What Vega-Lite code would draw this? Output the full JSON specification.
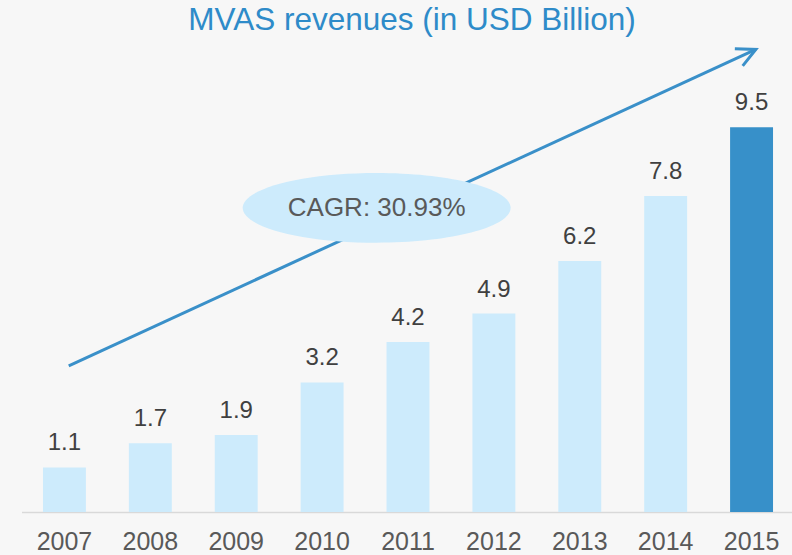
{
  "$schema": "https://vega.github.io/schema/vega-lite/v6.json",
  "width": 773,
  "height": 467,
  "autosize": {"type": "none"},
  "padding": {"left": 21.5, "top": 45, "right": 0, "bottom": 43},
  "background": "#f7f7f7",
  "config": {"view": {"stroke": null}, "font": "Liberation Sans"},
  "title": {
    "text": "MVAS revenues (in USD Billion)",
    "fontSize": 31.5,
    "fontWeight": "normal",
    "color": "#2e8bc9",
    "font": "Liberation Sans",
    "anchor": "middle",
    "frame": "group",
    "baseline": "alphabetic",
    "offset": -19,
    "dx": 4
  },
  "datasets": {
    "rev": [
      {"year": "2007", "value": 1.1},
      {"year": "2008", "value": 1.7},
      {"year": "2009", "value": 1.9},
      {"year": "2010", "value": 3.2},
      {"year": "2011", "value": 4.2},
      {"year": "2012", "value": 4.9},
      {"year": "2013", "value": 6.2},
      {"year": "2014", "value": 7.8},
      {"year": "2015", "value": 9.5}
    ],
    "arrow": [
      {"year": "2007", "value": 3.61},
      {"year": "2015", "value": 11.42}
    ],
    "arrowhead": [
      {"year": "2015", "value": 11.42}
    ],
    "cagr": [
      {"year": "2010", "value": 7.51, "label": "CAGR: 30.93%"}
    ]
  },
  "layer": [
    {
      "data": {"name": "rev"},
      "mark": {"type": "bar"},
      "encoding": {
        "x": {
          "field": "year",
          "type": "nominal",
          "scale": {"paddingInner": 0.5, "paddingOuter": 0.25},
          "axis": {
            "title": null,
            "labelAngle": 0,
            "ticks": false,
            "labelFontSize": 25,
            "labelColor": "#595959",
            "labelBaseline": "alphabetic",
            "labelPadding": 37,
            "domainColor": "#d9d9d9",
            "domainWidth": 1.5,
            "grid": false
          }
        },
        "y": {
          "field": "value",
          "type": "quantitative",
          "scale": {"domain": [0, 11.53], "nice": false, "zero": true},
          "axis": null
        },
        "color": {
          "condition": {"test": "datum.year === '2015'", "value": "#3790c9"},
          "value": "#cdebfc"
        }
      }
    },
    {
      "data": {"name": "rev"},
      "mark": {"type": "text", "fontSize": 24, "color": "#404040", "baseline": "alphabetic", "dy": -17},
      "encoding": {
        "x": {"field": "year", "type": "nominal"},
        "y": {"field": "value", "type": "quantitative"},
        "text": {"field": "value", "type": "quantitative", "format": ".1f"}
      }
    },
    {
      "data": {"name": "arrow"},
      "mark": {"type": "line", "color": "#3a90c9", "strokeWidth": 3},
      "encoding": {
        "x": {"field": "year", "type": "nominal", "bandPosition": 0.6},
        "y": {"field": "value", "type": "quantitative"}
      }
    },
    {
      "data": {"name": "arrowhead"},
      "mark": {
        "type": "point",
        "shape": "M -1 -0.5 L 0 0 L -1 0.5",
        "filled": false,
        "stroke": "#3a90c9",
        "strokeWidth": 3,
        "size": 1414,
        "angle": -24.7,
        "opacity": 1
      },
      "encoding": {
        "x": {"field": "year", "type": "nominal", "bandPosition": 0.6},
        "y": {"field": "value", "type": "quantitative"}
      }
    },
    {
      "data": {"name": "cagr"},
      "mark": {
        "type": "point",
        "shape": "M -1 0 A 1 0.26 0 1 1 1 0 A 1 0.26 0 1 1 -1 0 Z",
        "filled": true,
        "fill": "#cdebfc",
        "strokeWidth": 0,
        "size": 71824,
        "opacity": 1
      },
      "encoding": {
        "x": {"field": "year", "type": "nominal", "bandPosition": 1.77},
        "y": {"field": "value", "type": "quantitative"}
      }
    },
    {
      "data": {"name": "cagr"},
      "mark": {"type": "text", "fontSize": 26, "color": "#595959", "align": "center", "baseline": "middle"},
      "encoding": {
        "x": {"field": "year", "type": "nominal", "bandPosition": 1.77},
        "y": {"field": "value", "type": "quantitative"},
        "text": {"field": "label"}
      }
    }
  ]
}
